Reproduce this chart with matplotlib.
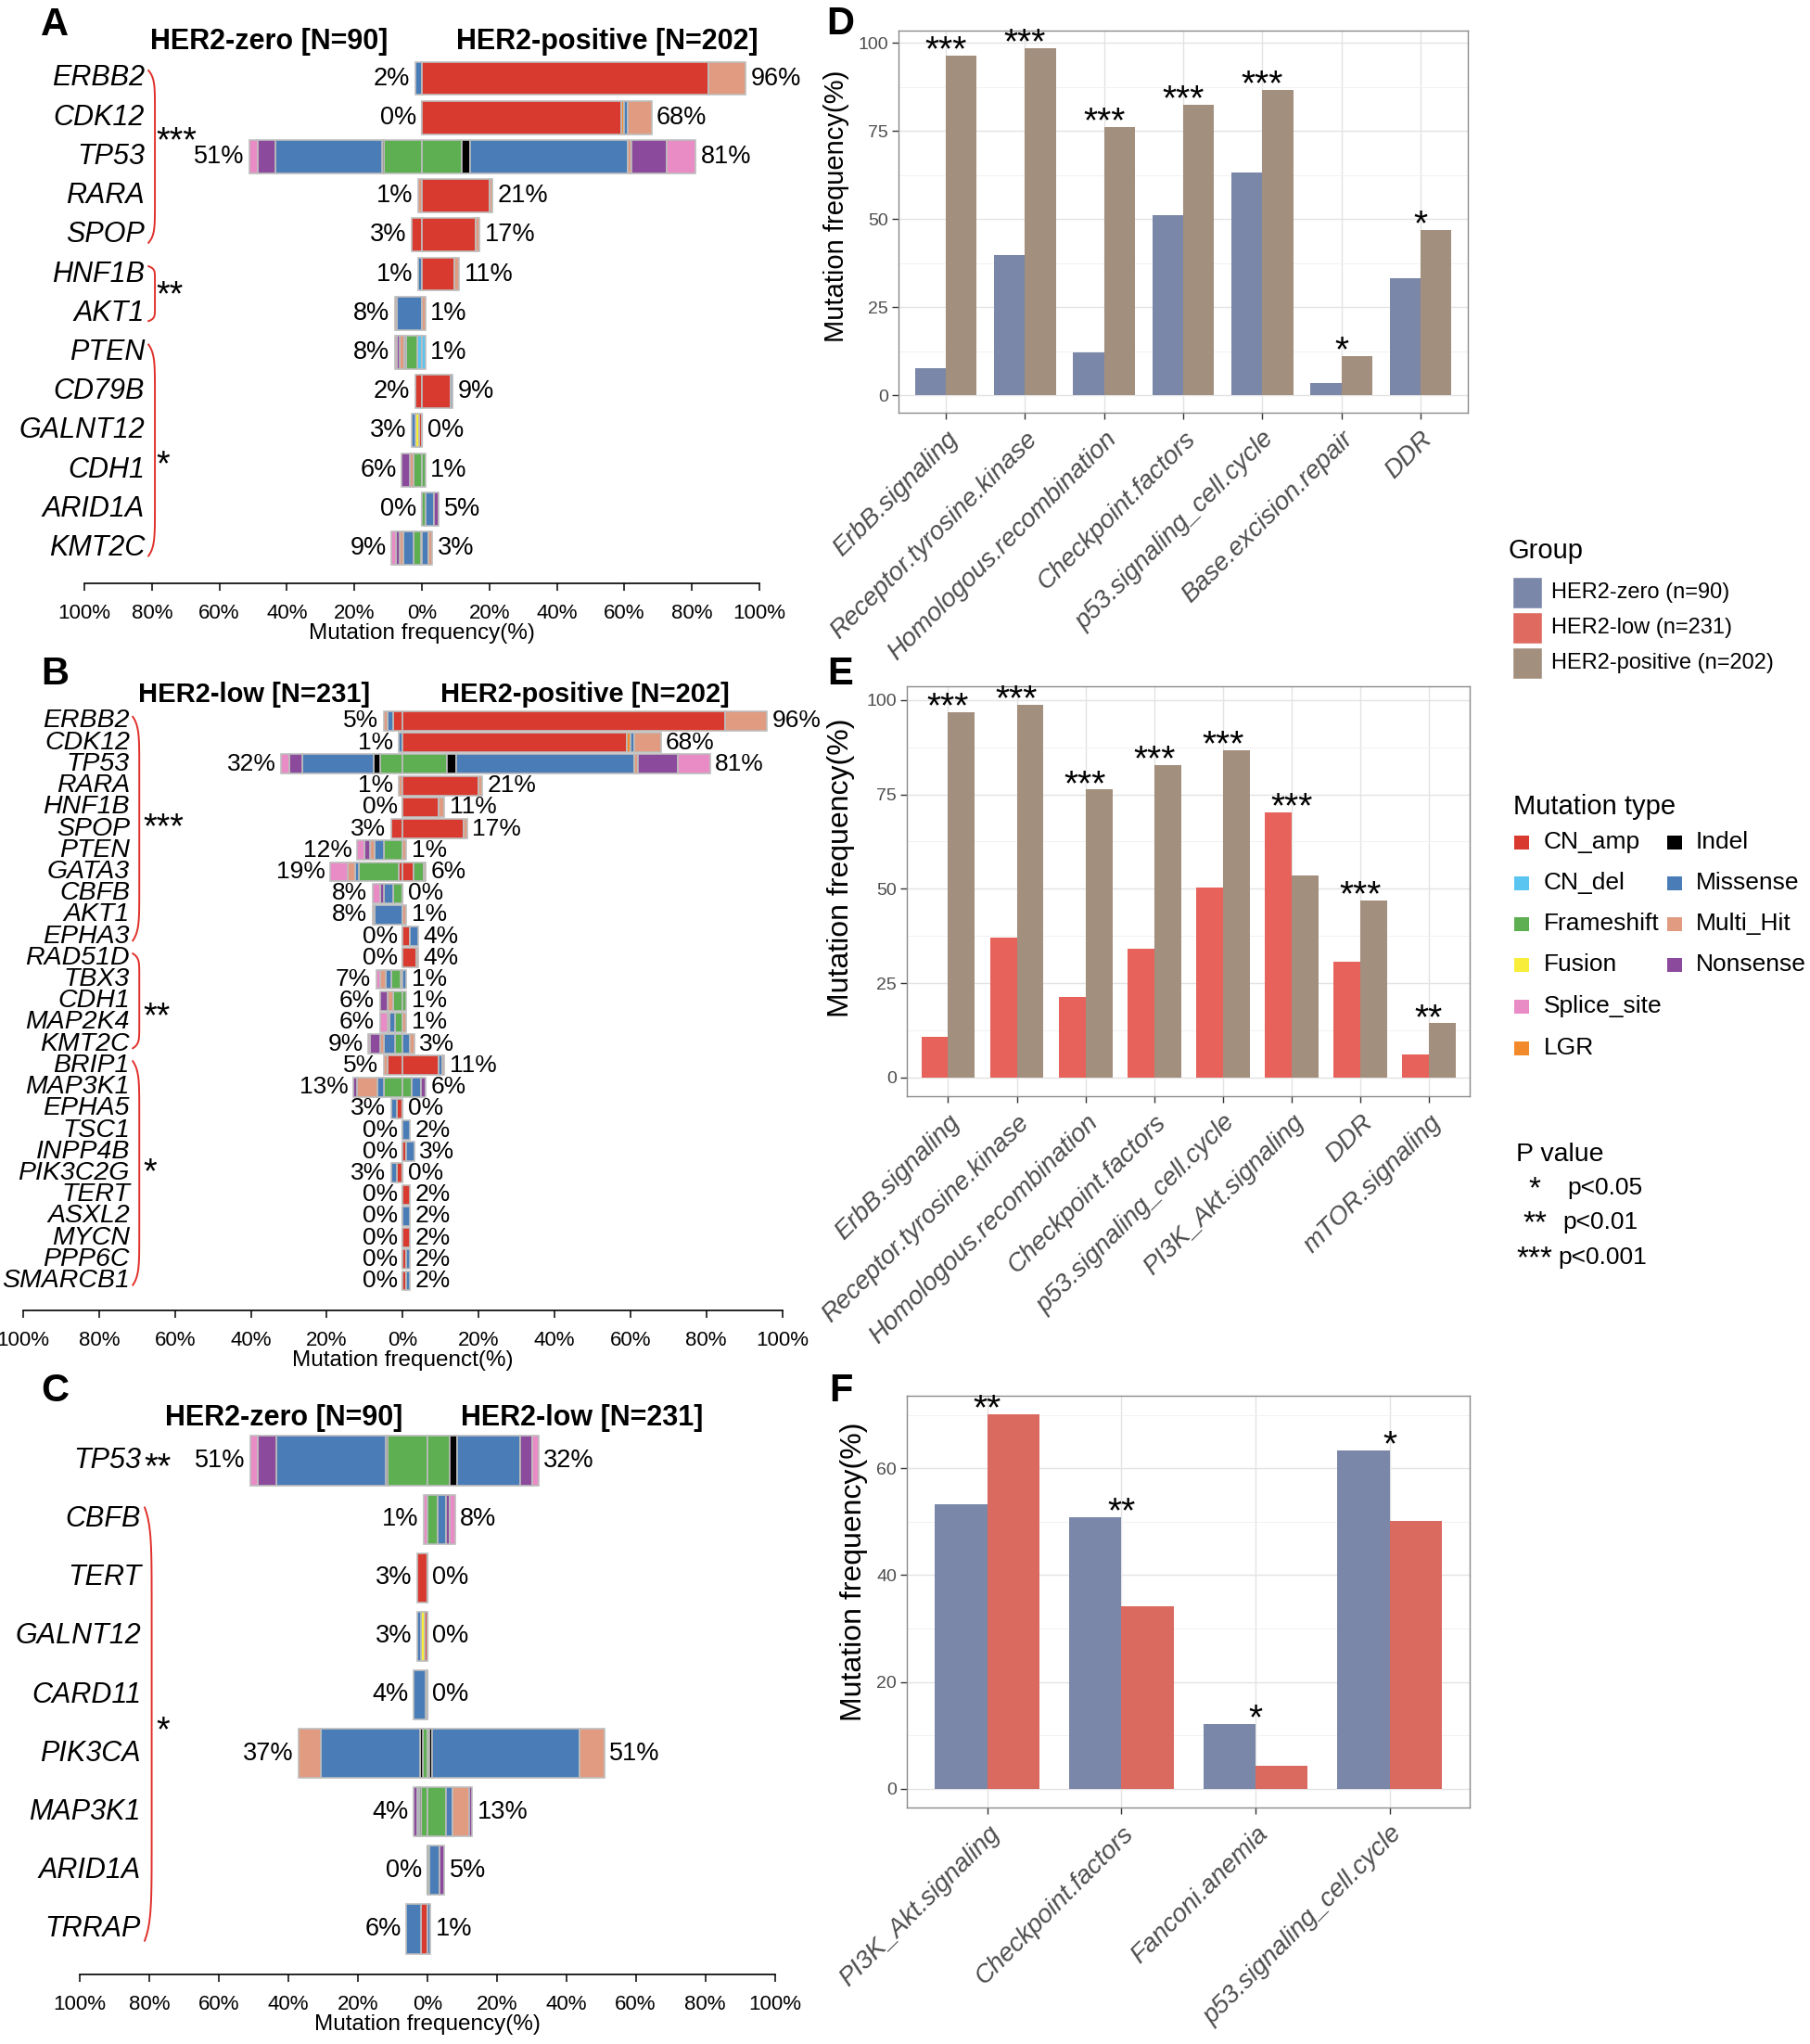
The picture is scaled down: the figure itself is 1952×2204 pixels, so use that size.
import numpy as np
import matplotlib
matplotlib.use('Agg')
import matplotlib.pyplot as plt
from matplotlib.patches import Rectangle

plt.rcParams['font.family'] = ['Liberation Sans', 'DejaVu Sans']

W, H = 1952, 2204

MUT_COLORS = {'CN_amp': '#D93A2F', 'CN_del': '#5BC5F2', 'Frameshift': '#5DAF52',
              'Fusion': '#F8EE3A', 'Indel': '#000000', 'LGR': '#F28A2C',
              'Missense': '#4A7DB8', 'Multi_Hit': '#E09B81', 'Nonsense': '#8B4A9C',
              'Splice_site': '#E98CC6'}
EDGE = '#BDBDBD'

# ---------------- panel A : HER2-zero vs HER2-positive
A_genes = ['ERBB2', 'CDK12', 'TP53', 'RARA', 'SPOP', 'HNF1B', 'AKT1', 'PTEN', 'CD79B',
           'GALNT12', 'CDH1', 'ARID1A', 'KMT2C']
A_left_pct = [2, 0, 51, 1, 3, 1, 8, 8, 2, 3, 6, 0, 9]
A_right_pct = [96, 68, 81, 21, 17, 11, 1, 1, 9, 0, 1, 5, 3]
A_left_mut = [
    [('Missense', 2)],
    [],
    [('Frameshift', 11.3), ('Indel', 0.6), ('Missense', 31.6), ('Nonsense', 5.2), ('Splice_site', 2.3)],
    [('Multi_Hit', 1)],
    [('CN_amp', 3)],
    [('Missense', 1)],
    [('Missense', 7.5), ('Multi_Hit', 0.5)],
    [('CN_del', 1.3), ('Frameshift', 3.5), ('Missense', 0.5), ('Multi_Hit', 1.2), ('Nonsense', 1.0), ('Splice_site', 0.5)],
    [('CN_amp', 2)],
    [('CN_amp', 0.8), ('Fusion', 1.0), ('Missense', 1.2)],
    [('Frameshift', 2.5), ('Multi_Hit', 1.2), ('Nonsense', 2.3)],
    [],
    [('CN_amp', 0.4), ('Frameshift', 2.2), ('Missense', 3.0), ('Multi_Hit', 1.0), ('Nonsense', 1.2), ('Splice_site', 1.2)],
]
A_right_mut = [
    [('CN_amp', 85), ('Multi_Hit', 11)],
    [('CN_amp', 59), ('LGR', 1), ('Missense', 1), ('Multi_Hit', 7)],
    [('Frameshift', 11.7), ('Indel', 2.5), ('Missense', 46.8), ('Multi_Hit', 1), ('Nonsense', 10.5), ('Splice_site', 8.5)],
    [('CN_amp', 20), ('Multi_Hit', 1)],
    [('CN_amp', 16), ('Multi_Hit', 1)],
    [('CN_amp', 9.5), ('Multi_Hit', 1.5)],
    [('Multi_Hit', 1)],
    [('CN_del', 1)],
    [('CN_amp', 8.6), ('Missense', 0.4)],
    [],
    [('Frameshift', 1)],
    [('Frameshift', 1), ('Missense', 2.5), ('Nonsense', 1.5)],
    [('Missense', 2), ('Multi_Hit', 1)],
]
# (first row, last row, significance, row where the stars sit)
A_groups = [(0, 4, '***', 1.63), (5, 6, '**', 5.56), (7, 12, '*', 9.9)]

# ---------------- panel B : HER2-low vs HER2-positive
B_genes = ['ERBB2', 'CDK12', 'TP53', 'RARA', 'HNF1B', 'SPOP', 'PTEN', 'GATA3', 'CBFB', 'AKT1',
           'EPHA3', 'RAD51D', 'TBX3', 'CDH1', 'MAP2K4', 'KMT2C', 'BRIP1', 'MAP3K1', 'EPHA5',
           'TSC1', 'INPP4B', 'PIK3C2G', 'TERT', 'ASXL2', 'MYCN', 'PPP6C', 'SMARCB1']
B_left_pct = [5, 1, 32, 1, 0, 3, 12, 19, 8, 8, 0, 0, 7, 6, 6, 9, 5, 13, 3, 0, 0, 3, 0, 0, 0, 0, 0]
B_right_pct = [96, 68, 81, 21, 11, 17, 1, 6, 0, 1, 4, 4, 1, 1, 1, 3, 11, 6, 0, 2, 3, 0, 2, 2, 2, 2, 2]
B_left_mut = [
    [('CN_amp', 2.5), ('Missense', 1.5), ('Multi_Hit', 1)],
    [('Missense', 1)],
    [('Frameshift', 6), ('Indel', 1.6), ('Missense', 18.8), ('Nonsense', 3.5), ('Splice_site', 2.1)],
    [('Multi_Hit', 1)],
    [],
    [('CN_amp', 3)],
    [('Frameshift', 5), ('Missense', 2.5), ('Multi_Hit', 1), ('Nonsense', 1.5), ('Splice_site', 2)],
    [('CN_amp', 1), ('Frameshift', 10.5), ('Missense', 1), ('Multi_Hit', 2), ('Splice_site', 4.5)],
    [('Frameshift', 2.5), ('Missense', 2.5), ('Nonsense', 1), ('Splice_site', 2)],
    [('Missense', 7.5), ('Multi_Hit', 0.5)],
    [],
    [],
    [('CN_amp', 0.5), ('Frameshift', 2.5), ('Missense', 1.5), ('Multi_Hit', 1.5), ('Splice_site', 1)],
    [('Frameshift', 2.5), ('Multi_Hit', 1.5), ('Nonsense', 2)],
    [('Frameshift', 2), ('Missense', 1.5), ('Multi_Hit', 0.5), ('Splice_site', 2)],
    [('Frameshift', 2), ('Missense', 3), ('Multi_Hit', 1), ('Nonsense', 2.5), ('Splice_site', 0.5)],
    [('CN_amp', 4), ('Multi_Hit', 1)],
    [('Frameshift', 5), ('Missense', 1.7), ('Multi_Hit', 5.3), ('Nonsense', 1)],
    [('CN_amp', 1.5), ('Missense', 1.5)],
    [],
    [],
    [('CN_amp', 1.5), ('Missense', 1.5)],
    [], [], [], [], [],
]
B_right_mut = [
    [('CN_amp', 85), ('Multi_Hit', 11)],
    [('CN_amp', 59), ('LGR', 1), ('Missense', 1), ('Multi_Hit', 7)],
    [('Frameshift', 11.7), ('Indel', 2.5), ('Missense', 46.8), ('Multi_Hit', 1), ('Nonsense', 10.5), ('Splice_site', 8.5)],
    [('CN_amp', 20), ('Multi_Hit', 1)],
    [('CN_amp', 9.5), ('Multi_Hit', 1.5)],
    [('CN_amp', 16), ('Multi_Hit', 1)],
    [('Multi_Hit', 1)],
    [('CN_amp', 2.8), ('Frameshift', 2.8), ('Multi_Hit', 0.4)],
    [],
    [('Multi_Hit', 1)],
    [('CN_amp', 2), ('Missense', 2)],
    [('CN_amp', 3.5), ('Multi_Hit', 0.5)],
    [('Missense', 1)],
    [('Frameshift', 1)],
    [('Multi_Hit', 1)],
    [('Missense', 2), ('Multi_Hit', 1)],
    [('CN_amp', 9.5), ('Missense', 1), ('Multi_Hit', 0.5)],
    [('Frameshift', 2.3), ('Missense', 2.5), ('Nonsense', 1.2)],
    [],
    [('Missense', 2)],
    [('CN_amp', 1), ('Missense', 2)],
    [],
    [('CN_amp', 2)],
    [('Missense', 2)],
    [('CN_amp', 2)],
    [('CN_amp', 1), ('Missense', 1)],
    [('CN_amp', 1), ('Missense', 1)],
]
B_groups = [(0, 10, '***', 5.0), (11, 15, '**', 13.77), (16, 26, '*', 21.0)]

# ---------------- panel C : HER2-zero vs HER2-low
C_genes = ['TP53', 'CBFB', 'TERT', 'GALNT12', 'CARD11', 'PIK3CA', 'MAP3K1', 'ARID1A', 'TRRAP']
C_left_pct = [51, 1, 3, 3, 4, 37, 4, 0, 6]
C_right_pct = [32, 8, 0, 0, 0, 51, 13, 5, 1]
C_left_mut = [
    [('Frameshift', 11.3), ('Indel', 0.6), ('Missense', 31.6), ('Nonsense', 5.2), ('Splice_site', 2.3)],
    [('Splice_site', 1)],
    [('CN_amp', 3)],
    [('CN_amp', 0.8), ('Fusion', 1.0), ('Missense', 1.2)],
    [('CN_amp', 0.5), ('Missense', 3.5)],
    [('Frameshift', 1.2), ('Indel', 0.8), ('Missense', 28.5), ('Multi_Hit', 6.5)],
    [('Frameshift', 1.8), ('Indel', 0.6), ('Missense', 0.6), ('Nonsense', 1.0)],
    [],
    [('CN_amp', 1.8), ('Missense', 4.2)],
]
C_right_mut = [
    [('Frameshift', 6.6), ('Indel', 2.1), ('Missense', 18.1), ('Nonsense', 3.3), ('Splice_site', 1.9)],
    [('Frameshift', 3), ('Missense', 2.3), ('Nonsense', 1.2), ('Splice_site', 1.5)],
    [],
    [],
    [],
    [('Frameshift', 0.6), ('Indel', 0.8), ('Missense', 42.4), ('Multi_Hit', 7.2)],
    [('Frameshift', 5.5), ('Missense', 1.8), ('Multi_Hit', 4.8), ('Nonsense', 0.9)],
    [('Frameshift', 0.5), ('Missense', 3), ('Nonsense', 1.5)],
    [('Missense', 1)],
]
C_groups = [(0, 0, '**', 0.13), (1, 8, '*', 4.63)]

# ---------------- pathway panels
D_cats = ['ErbB.signaling', 'Receptor.tyrosine.kinase', 'Homologous.recombination',
          'Checkpoint.factors', 'p53.signaling_cell.cycle', 'Base.excision.repair', 'DDR']
D_zero = [7.7, 39.9, 12.2, 51.0, 63.2, 3.5, 33.2]
D_pos = [96.4, 98.5, 76.2, 82.5, 86.7, 11.1, 47.0]
D_stars = ['***', '***', '***', '***', '***', '*', '*']

E_cats = ['ErbB.signaling', 'Receptor.tyrosine.kinase', 'Homologous.recombination',
          'Checkpoint.factors', 'p53.signaling_cell.cycle', 'PI3K_Akt.signaling', 'DDR',
          'mTOR.signaling']
E_low = [10.9, 37.0, 21.3, 34.2, 50.4, 70.2, 30.8, 6.2]
E_pos = [96.7, 98.7, 76.3, 82.7, 86.7, 53.6, 47.0, 14.4]
E_stars = ['***', '***', '***', '***', '***', '***', '***', '**']

F_cats = ['PI3K_Akt.signaling', 'Checkpoint.factors', 'Fanconi.anemia', 'p53.signaling_cell.cycle']
F_zero = [53.3, 50.9, 12.2, 63.4]
F_low = [70.1, 34.1, 4.3, 50.2]
F_stars = ['**', '**', '*', '*']

ZERO_C, LOW_C, POS_C = '#7A87A8', '#DE6A60', '#A38F7D'

fig = plt.figure(figsize=(W / 100, H / 100), dpi=100)


def px_box(x0, y0, x1, y1):
    return [x0 / W, 1 - y1 / H, (x1 - x0) / W, (y1 - y0) / H]


lay = fig.add_axes([0, 0, 1, 1])
lay.set_xlim(0, W)
lay.set_ylim(H, 0)
lay.axis('off')


def bracket(ax, r0, r1, x0, bulge):
    t = np.linspace(0, 1, 80)
    ys = r0 + (r1 - r0) * t
    xs = x0 + bulge * (1 - (2 * t - 1) ** 12)
    ax.plot(xs, ys, color='#E0302A', lw=1.4, clip_on=False)


def butterfly(xpx, rows_px, axis_px, top_px, genes, lpct, rpct, lmut, rmut, groups,
              label_x, brack_x, star_x, bulge, bar_h, gene_fs, pct_fs, xlabel):
    ax = fig.add_axes(px_box(xpx[0], top_px, xpx[1], axis_px))
    ax.patch.set_visible(False)
    n = len(genes)
    sp = (rows_px[1] - rows_px[0]) / (n - 1)
    for i in range(n):
        for side, segs, pct in ((-1, lmut[i], lpct[i]), (1, rmut[i], rpct[i])):
            cum = 0
            if not segs:
                ax.barh(i, 0, left=0, height=bar_h, color='none', edgecolor=EDGE, linewidth=1.6)
            for t, v in segs:
                ax.barh(i, side * v, left=side * cum, height=bar_h, color=MUT_COLORS[t],
                        edgecolor=EDGE, linewidth=1.2)
                cum += v
            ax.annotate(f'{pct}%', xy=(side * cum, i), xytext=(side * 4, 0),
                        textcoords='offset points', ha='left' if side > 0 else 'right',
                        va='center', fontsize=pct_fs)
    for i, g in enumerate(genes):
        ax.text(label_x, i, g, ha='right', va='center', style='italic', fontsize=gene_fs)
    for r0, r1, s, sr in groups:
        if r0 == r1:
            ax.text(label_x + 0.8, sr, s, ha='left', va='center', fontsize=27)
        else:
            bracket(ax, r0 - 0.2, r1 + 0.2, brack_x, bulge)
            ax.text(star_x, sr, s, ha='left', va='center', fontsize=27)
    ax.set_xlim(-100, 100)
    ax.set_ylim((axis_px - rows_px[0]) / sp, (top_px - rows_px[0]) / sp)
    ticks = list(range(-100, 101, 20))
    ax.set_xticks(ticks)
    ax.set_xticklabels([f'{abs(t)}%' for t in ticks], fontsize=16)
    ax.set_yticks([])
    for s in ('left', 'right', 'top'):
        ax.spines[s].set_visible(False)
    ax.spines['bottom'].set_linewidth(1.2)
    ax.spines['bottom'].set_bounds(-100, 100)
    ax.tick_params(axis='x', length=6, width=1.1, pad=10)
    ax.set_xlabel(xlabel, fontsize=17.5, labelpad=0)
    return ax


butterfly((91, 819), (84.5, 591), 629, 60, A_genes, A_left_pct, A_right_pct, A_left_mut,
          A_right_mut, A_groups, -82.1, -81.0, -78.8, 1.9, 0.85, 22, 19.5,
          'Mutation frequency(%)')
butterfly((25, 843.5), (777.5, 1381), 1413, 760, B_genes, B_left_pct, B_right_pct, B_left_mut,
          B_right_mut, B_groups, -71.9, -71.1, -68.3, 1.7, 0.9, 20.5, 19,
          'Mutation frequenct(%)')
butterfly((86, 835.5), (1575, 2080), 2129, 1545, C_genes, C_left_pct, C_right_pct, C_left_mut,
          C_right_mut, C_groups, -82.4, -81.3, -77.9, 2.0, 0.84, 22, 19.5,
          'Mutation frequency(%)')

# butterfly titles
for (xr, xl, y, t1, t2, fs) in [(418, 492, 45, 'HER2-zero [N=90]', 'HER2-positive [N=202]', 22),
                                 (399, 475, 749, 'HER2-low [N=231]', 'HER2-positive [N=202]', 21),
                                 (434, 497, 1529, 'HER2-zero [N=90]', 'HER2-low [N=231]', 22)]:
    lay.text(xr, y, t1, ha='right', va='center', fontsize=fs, fontweight='bold')
    lay.text(xl, y, t2, ha='left', va='center', fontsize=fs, fontweight='bold')


def grouped(box, cats, v1, v2, c1, c2, stars, yticks, minor):
    ax = fig.add_axes(px_box(*box))
    x = np.arange(1, len(cats) + 1)
    ax.bar(x - 0.195, v1, width=0.39, color=c1, zorder=2)
    ax.bar(x + 0.195, v2, width=0.39, color=c2, zorder=2)
    top = max(max(v1), max(v2))
    ax.set_xlim(0.4, len(cats) + 0.6)
    ax.set_ylim(-0.05 * top, 1.05 * top)
    ax.set_yticks(yticks)
    ax.set_yticks(minor, minor=True)
    ax.grid(True, which='major', color='#E3E3E3', lw=1.0)
    ax.grid(True, which='minor', axis='y', color='#F1F1F1', lw=0.7)
    ax.set_axisbelow(True)
    ax.tick_params(axis='y', which='minor', length=0)
    ax.tick_params(axis='both', which='major', length=5, width=1, color='#333333', pad=3)
    ax.tick_params(axis='x', pad=6)
    ax.tick_params(axis='y', labelsize=14, labelcolor='#4D4D4D')
    ax.set_xticks(x)
    ax.set_xticklabels(cats, rotation=45, ha='right', va='top', rotation_mode='anchor',
                       style='italic', color='#4D4D4D', fontsize=20)
    for s in ax.spines.values():
        s.set_color('#8A8A8A')
        s.set_linewidth(1.0)
    for xi, a, b, s in zip(x, v1, v2, stars):
        ax.annotate(s, xy=(xi, max(a, b)), xytext=(0, -4), textcoords='offset points',
                    ha='center', va='baseline', fontsize=28)
    return ax


grouped((969, 33, 1583, 445), D_cats, D_zero, D_pos, ZERO_C, POS_C, D_stars,
        [0, 25, 50, 75, 100], [12.5, 37.5, 62.5, 87.5])
grouped((978, 740, 1585.5, 1182), E_cats, E_low, E_pos, '#E6625A', POS_C, E_stars,
        [0, 25, 50, 75, 100], [12.5, 37.5, 62.5, 87.5])
grouped((978, 1505, 1585.5, 1949), F_cats, F_zero, F_low, ZERO_C, '#DA6A5F', F_stars,
        [0, 20, 40, 60], [10, 30, 50, 70])

for (x, y, fs) in [(902, 222, 21), (907, 936, 23), (921, 1695, 23)]:
    lay.text(x, y, 'Mutation frequency(%)', rotation=90, ha='center', va='center', fontsize=fs)

# panel letters
for (x, y, s) in [(59, 27, 'A'), (59, 727, 'B'), (59, 1500, 'C'),
                  (906, 26, 'D'), (906, 727, 'E'), (907, 1500, 'F')]:
    lay.text(x, y, s, ha='center', va='center', fontsize=30, fontweight='bold')

# legend: Group
lay.text(1627, 594, 'Group', ha='left', va='center', fontsize=21)
for cy, lab, col in [(639, 'HER2-zero (n=90)', ZERO_C), (677, 'HER2-low (n=231)', LOW_C),
                     (715, 'HER2-positive (n=202)', POS_C)]:
    lay.add_patch(Rectangle((1631, cy - 17), 32, 34, facecolor=col, edgecolor='white', lw=1))
    lay.text(1673, cy, lab, ha='left', va='center', fontsize=17)

# legend: Mutation type
lay.text(1632, 870, 'Mutation type', ha='left', va='center', fontsize=21)
mut_rows = [908, 952, 996, 1040, 1085, 1130]
col1 = ['CN_amp', 'CN_del', 'Frameshift', 'Fusion', 'Splice_site', 'LGR']
col2 = ['Indel', 'Missense', 'Multi_Hit', 'Nonsense']
for names, sx, tx in [(col1, 1633, 1665), (col2, 1798, 1829)]:
    for cy, nm in zip(mut_rows, names):
        lay.add_patch(Rectangle((sx, cy - 7.5), 16, 15, facecolor=MUT_COLORS[nm], edgecolor='none'))
        lay.text(tx, cy, nm, ha='left', va='center', fontsize=19)

# legend: P value
lay.text(1635, 1245, 'P value', ha='left', va='center', fontsize=20.5)
for cy, st, ptx, pt in [(1281, '*', 1690, 'p<0.05'), (1318, '**', 1685, 'p<0.01'),
                        (1356, '***', 1680, 'p<0.001')]:
    lay.text(1655, cy + 2, st, ha='center', va='center', fontsize=24)
    lay.text(ptx, cy, pt, ha='left', va='center', fontsize=19)

fig.savefig('out.png', dpi=100)
